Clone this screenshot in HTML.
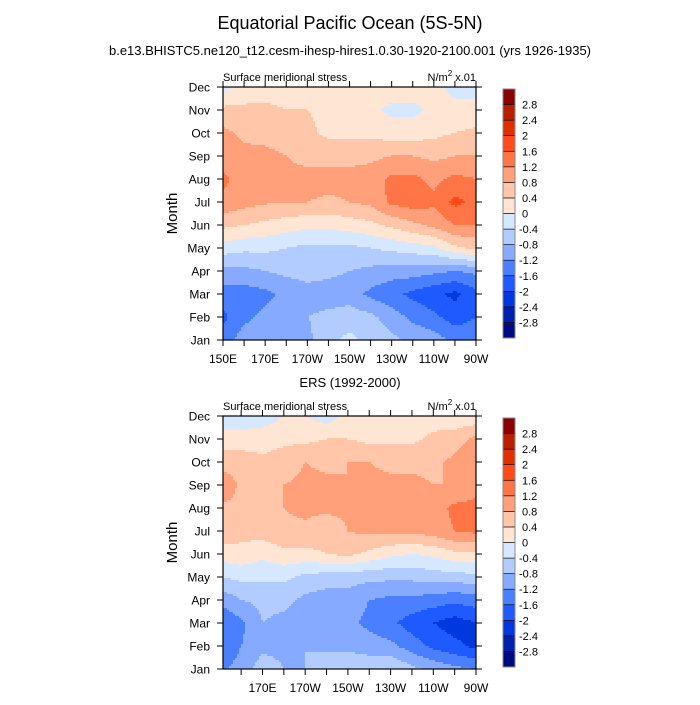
<!DOCTYPE html>
<html><head><meta charset="utf-8"><style>
body{margin:0;background:#fff;}
svg text{font-family:"Liberation Sans",sans-serif;fill:#000;}
</style></head><body>
<svg id="chart" width="700" height="700" xmlns="http://www.w3.org/2000/svg">
<rect width="700" height="700" fill="#fff"/>
<text x="350" y="29" font-size="18" text-anchor="middle">Equatorial Pacific Ocean (5S-5N)</text>
<text x="350" y="55" font-size="13" text-anchor="middle">b.e13.BHISTC5.ne120_t12.cesm-ihesp-hires1.0.30-1920-2100.001 (yrs 1926-1935)</text>
<text x="350" y="387" font-size="13" text-anchor="middle">ERS (1992-2000)</text>
<g id="p1"></g>
<g id="p2"></g>
</svg>
<script>
const months = ["Jan","Feb","Mar","Apr","May","Jun","Jul","Aug","Sep","Oct","Nov","Dec"];
const lons = [150,160,170,180,190,200,210,220,230,240,250,260,270];
const levels = [-2.8,-2.4,-2,-1.6,-1.2,-0.8,-0.4,0,0.4,0.8,1.2,1.6,2,2.4,2.8];
const levelLabels = ["-2.8","-2.4","-2","-1.6","-1.2","-0.8","-0.4","0","0.4","0.8","1.2","1.6","2","2.4","2.8"];
const xTickLons1 = [150,170,190,210,230,250,270];
const xTickLabels1 = ["150E","170E","170W","150W","130W","110W","90W"];
const xTickLons2 = [170,190,210,230,250,270];
const xTickLabels2 = ["170E","170W","150W","130W","110W","90W"];
const modelData = [
[-1.4,-1.0,-1.0,-0.9,-0.9,-0.5,-0.3,-0.5,-0.7,-0.9,-1.0,-1.3,-1.3],
[-1.7,-1.3,-1.1,-1.0,-0.8,-0.7,-0.6,-0.7,-1.0,-1.3,-1.5,-1.8,-1.6],
[-1.4,-1.4,-1.3,-1.1,-1.0,-1.0,-1.0,-1.3,-1.5,-1.7,-1.9,-2.1,-1.7],
[-0.9,-0.9,-0.8,-0.7,-0.6,-0.7,-0.8,-0.9,-1.0,-1.0,-1.1,-1.2,-1.1],
[-0.2,-0.3,-0.3,-0.4,-0.5,-0.5,-0.5,-0.4,-0.3,-0.2,-0.1,0.3,0.5],
[0.5,0.4,0.3,0.2,0.1,0.1,0.2,0.3,0.5,0.7,0.9,1.2,1.2],
[1.1,0.95,0.85,0.8,0.8,0.75,0.8,0.9,1.3,1.4,1.3,1.7,1.5],
[1.3,1.0,1.0,0.9,0.9,0.9,0.9,1.0,1.3,1.3,1.1,1.3,1.2],
[1.0,0.95,0.95,0.8,0.7,0.7,0.7,0.7,0.8,0.8,0.7,0.8,0.8],
[0.9,0.7,0.6,0.5,0.5,0.3,0.3,0.3,0.2,0.2,0.3,0.4,0.5],
[0.5,0.5,0.5,0.4,0.4,0.3,0.2,0.1,-0.1,-0.1,0.1,0.1,0.1],
[-0.1,0.1,0.2,0.2,0.2,0.2,0.2,0.2,0.2,0.2,0.1,-0.1,-0.1]];
const ersData = [
[-1.3,-1.0,-0.6,-0.8,-0.8,-0.5,-0.5,-0.5,-0.4,-0.7,-0.9,-1.1,-1.2],
[-1.7,-1.2,-0.9,-0.9,-0.8,-0.9,-0.9,-1.0,-1.1,-1.4,-1.7,-1.9,-2.1],
[-1.6,-1.3,-0.8,-0.9,-0.9,-1.0,-1.1,-1.3,-1.5,-1.8,-2.0,-2.2,-2.0],
[-1.1,-0.8,-0.7,-0.7,-0.9,-1.0,-1.0,-1.2,-1.3,-1.3,-1.4,-1.5,-1.4],
[-0.4,-0.3,-0.3,-0.3,-0.5,-0.6,-0.6,-0.7,-0.7,-0.7,-0.6,-0.6,-0.5],
[0.2,0.3,0.1,0.3,0.3,0.4,0.5,0.3,0.1,0.0,0.1,0.3,0.3],
[0.7,0.5,0.6,0.7,0.7,0.5,0.8,0.9,0.9,0.9,1.0,1.2,1.3],
[0.7,0.7,0.7,0.8,0.9,0.9,0.9,0.8,0.9,0.9,1.0,1.3,1.3],
[1.2,0.7,0.6,0.8,0.9,0.9,0.8,0.9,0.9,0.9,0.8,0.8,1.1],
[0.6,0.6,0.5,0.6,0.8,0.7,0.8,0.8,0.7,0.7,0.7,0.9,1.2],
[0.2,0.2,0.2,0.3,0.3,0.4,0.4,0.3,0.3,0.3,0.5,0.6,0.9],
[-0.3,-0.3,-0.2,0.0,0.0,-0.2,0.1,0.2,0.2,0.1,0.2,0.1,0.1]];
const colors = ["#000a80","#0020b0","#0038e0","#1f5aff","#4a80ff","#85aaff","#b2ccff","#d6e8ff","#ffe6d4","#ffc6aa","#ffa07a","#ff7545","#ff4a1a","#e03000","#b82000","#8b0000"];
const NS="http://www.w3.org/2000/svg";
function mk(parent,tag,attrs,txt){const e=document.createElementNS(NS,tag);for(const k in attrs)e.setAttribute(k,attrs[k]);if(txt!==undefined)e.textContent=txt;parent.appendChild(e);return e;}
function colorFor(v){let i=0;while(i<levels.length&&v>=levels[i])i++;return colors[i];}
function sample(data,lon,m){
  let fx=(lon-lons[0])/10; fx=Math.max(0,Math.min(lons.length-1.0001,fx));
  let fy=Math.max(0,Math.min(10.9999,m));
  const i=Math.floor(fx),j=Math.floor(fy),tx=fx-i,ty=fy-j;
  const a=data[j][i],b=data[j][i+1],c=data[j+1][i],d=data[j+1][i+1];
  return (a*(1-tx)+b*tx)*(1-ty)+(c*(1-tx)+d*tx)*ty;
}
function panel(g,data,top,lon0,xTicks,xLabels,minorStart){
  const L=223,R=476,T=top,B=top+253;
  const xs=lon=>L+(lon-lon0)/(270-lon0)*(R-L);
  const ys=m=>B-m/11*(B-T);
  const field=mk(g,'g',{});
  
  
  const step=2;
  for(let y=T;y<B;y+=step){
    const hgt=Math.min(step,B-y);
    const m=(B-(y+hgt/2))/(B-T)*11;
    let runStart=L,runCol=null;
    for(let x=L;;x+=step){
      let col=null;
      if(x<R){const lon=lon0+((x+step/2)-L)/(R-L)*(270-lon0);col=colorFor(sample(data,lon,m));}
      if(col!==runCol){
        if(runCol!==null){const r=mk(field,'rect',{x:runStart,y:y,width:Math.min(x,R)-runStart+0.5,height:hgt+0.5,fill:runCol});
          
          }
        runStart=x;runCol=col;
      }
      if(x>=R)break;
    }
  }
  mk(g,'rect',{x:L,y:T,width:R-L,height:B-T,fill:'none',stroke:'#000','stroke-width':1.2});
  months.forEach((mn,i)=>{const y=ys(i);
    mk(g,'line',{x1:L-6,x2:L,y1:y,y2:y,stroke:'#000'});
    mk(g,'line',{x1:R,x2:R+6,y1:y,y2:y,stroke:'#000'});
    const t=mk(g,'text',{x:L-13,y:y+4.5,'font-size':12,'text-anchor':'end'},mn);
    
    
  });
  for(let lon=minorStart;lon<=270;lon+=10){const x=xs(lon);
    mk(g,'line',{x1:x,x2:x,y1:B,y2:B+6,stroke:'#000'});
    mk(g,'line',{x1:x,x2:x,y1:T-6,y2:T,stroke:'#000'});}
  xTicks.forEach((lon,i)=>{const t=mk(g,'text',{x:xs(lon),y:B+23,'font-size':12,'text-anchor':'middle'},xLabels[i]);
    
    });
  const yt=mk(g,'text',{x:0,y:0,'font-size':15,'text-anchor':'middle',transform:`translate(177,${(T+B)/2}) rotate(-90)`},'Month');
  
  
  const lt=mk(g,'text',{x:L,y:T-6,'font-size':11},'Surface meridional stress');
  
  
  const ut=mk(g,'text',{x:R,y:T-6,'font-size':11,'text-anchor':'end'});
  
  
  ut.innerHTML='N/m<tspan font-size="8" dy="-5">2</tspan><tspan dy="5"> x.01</tspan>';
  const cb=mk(g,'g',{});
  
  
  const cT=T+2,cB=B-2,h=(cB-cT)/colors.length;
  colors.forEach((c,i)=>{const r=mk(cb,'rect',{x:503,y:cB-(i+1)*h,width:12,height:h,fill:c,stroke:'#000','stroke-width':0.6});
    
    });
  mk(cb,'rect',{x:503,y:cT,width:12,height:cB-cT,fill:'none',stroke:'#888','stroke-width':1});
  levelLabels.forEach((lab,i)=>{const y=cB-(i+1)*h;
    const t=mk(cb,'text',{x:lab[0]==='-'?519:522,y:y+4,'font-size':11},lab);
    
    });
}
panel(document.getElementById('p1'),modelData,87,150,xTickLons1,xTickLabels1,150);
panel(document.getElementById('p2'),ersData,416,151.5,xTickLons2,xTickLabels2,160);
</script>
</body></html>
